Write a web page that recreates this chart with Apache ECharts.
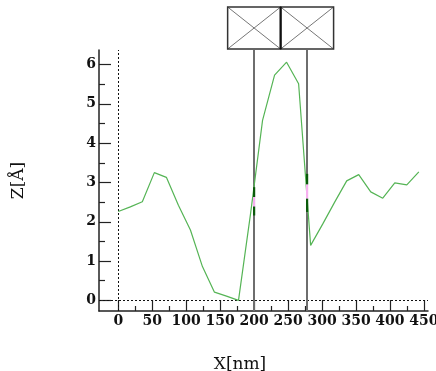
<!DOCTYPE html>
<html><head><meta charset="utf-8">
<script src="https://cdn.jsdelivr.net/npm/echarts@6/dist/echarts.min.js"></script>
<style>html,body{margin:0;padding:0;background:#fff;overflow:hidden}#c{width:436px;height:371px}</style>
</head><body><div id="c"></div>
<script>
// ---- data ----
const xValues = [0, 17.7, 35.4, 53.1, 70.8, 88.5, 106.2, 123.9, 141.6, 159.3, 177, 194.7, 212.4,
  230.1, 247.8, 265.5, 283.2, 300.9, 318.6, 336.3, 354, 371.7, 389.4, 407.1, 424.8, 442.5];
const zValues = [2.26, 2.38, 2.51, 3.25, 3.13, 2.42, 1.79, 0.86, 0.21, 0.11, 0.0, 2.2, 4.58,
  5.73, 6.06, 5.51, 1.40, 1.94, 2.5, 3.04, 3.2, 2.76, 2.6, 2.99, 2.94, 3.27];
const xMajorTicks = [0, 50, 100, 150, 200, 250, 300, 350, 400, 450];
const xMinorTicks = [25, 75, 125, 175, 225, 275, 325, 375, 425];
const yMajorTicks = [0, 1, 2, 3, 4, 5, 6];
const yMinorTicks = [0.5, 1.5, 2.5, 3.5, 4.5, 5.5];
const cursorX = [200, 278];
const cursorPink = [[2.39, 2.63], [2.59, 2.95]];
const cursorDark = [[[2.16, 2.39], [2.63, 2.88]], [[2.25, 2.59], [2.95, 3.22]]];
const xName = 'X[nm]';
const yName = 'Z[Å]';

// ---- chart ----
const X_MIN = -28.4, X_MAX = 456, Y_MIN = -0.27, Y_MAX = 6.37;
const axisColor = '#222';
const serif = 'DejaVu Serif';
const labelFont = { fontFamily: serif, fontWeight: 'bold', fontSize: 14, color: '#111' };
const chart = echarts.init(document.getElementById('c'), null, { renderer: 'canvas' });

function tickAxis(min, max, pos, values, len) {
  return {
    type: 'value', min: min, max: max, position: pos,
    axisLine: { show: false, onZero: false },
    axisTick: { show: true, inside: true, length: len, customValues: values, lineStyle: { color: axisColor, width: 1.2 } },
    axisLabel: { show: false }, splitLine: { show: false }
  };
}

const seriesList = [{
  type: 'line', xAxisIndex: 0, yAxisIndex: 0,
  data: xValues.map((x, i) => [x, zValues[i]]),
  symbol: 'none', lineStyle: { color: '#55b455', width: 1.2 }, z: 3,
  markLine: {
    silent: true, symbol: 'none', label: { show: false }, z: 2,
    data: [
      { xAxis: 0, lineStyle: { type: [2, 2], color: '#111', width: 1 } },
      { yAxis: 0, lineStyle: { type: [2, 2], color: '#111', width: 1 } },
      ...cursorX.map(v => ({ xAxis: v, lineStyle: { type: 'solid', color: '#6e6e6e', width: 2 } }))
    ]
  }
}];
cursorX.forEach((cx, i) => {
  cursorDark[i].forEach(seg => seriesList.push({
    type: 'line', xAxisIndex: 0, yAxisIndex: 0, data: [[cx, seg[0]], [cx, seg[1]]], symbol: 'none', silent: true, z: 10,
    lineStyle: { color: '#0a5a0a', width: 2.2 }
  }));
  seriesList.push({
    type: 'line', xAxisIndex: 0, yAxisIndex: 0, data: [[cx, cursorPink[i][0]], [cx, cursorPink[i][1]]], symbol: 'none', silent: true, z: 10,
    lineStyle: { color: '#f7b0f0', width: 2.2 }
  });
});

chart.setOption({
  animation: false,
  backgroundColor: '#fff',
  grid: { left: 99, right: 8, top: 50, bottom: 60, outerBoundsMode: 'none', containLabel: false },
  xAxis: [{
    type: 'value', min: X_MIN, max: X_MAX, position: 'bottom',
    axisLine: { show: true, onZero: false, lineStyle: { color: axisColor, width: 1.5 } },
    axisTick: { show: false },
    axisLabel: { show: true, customValues: xMajorTicks, margin: 3, hideOverlap: false, ...labelFont },
    splitLine: { show: false }
  },
    tickAxis(X_MIN, X_MAX, 'bottom', xMajorTicks, 11),
    tickAxis(X_MIN, X_MAX, 'bottom', xMinorTicks, 5)
  ],
  yAxis: [{
    type: 'value', min: Y_MIN, max: Y_MAX, position: 'left',
    name: yName, nameLocation: 'middle', nameGap: 72, nameRotate: 90,
    nameTextStyle: { fontFamily: serif, fontSize: 17, color: '#111' },
    axisLine: { show: true, onZero: false, lineStyle: { color: axisColor, width: 1.5 } },
    axisTick: { show: false },
    axisLabel: { show: true, customValues: yMajorTicks, margin: 3, ...labelFont },
    splitLine: { show: false }
  },
    tickAxis(Y_MIN, Y_MAX, 'left', yMajorTicks, 12),
    tickAxis(Y_MIN, Y_MAX, 'left', yMinorTicks, 6)
  ],
  series: seriesList
});

// cursor boxes above the plot and x-axis name
const px = cursorX.map(v => chart.convertToPixel({ xAxisIndex: 0 }, v));
const d = px[1] - px[0];
const boxTop = 7, boxBottom = 49;
const graphics = [];
px.forEach(cx => {
  const l = cx - d / 2, r = cx + d / 2;
  graphics.push({ type: 'line', shape: { x1: l, y1: boxTop, x2: r, y2: boxBottom }, style: { stroke: '#777', lineWidth: 1 } });
  graphics.push({ type: 'line', shape: { x1: l, y1: boxBottom, x2: r, y2: boxTop }, style: { stroke: '#777', lineWidth: 1 } });
  graphics.push({ type: 'rect', shape: { x: l, y: boxTop, width: r - l, height: boxBottom - boxTop }, style: { fill: null, stroke: '#333', lineWidth: 1.5 } });
});
graphics.push({ type: 'line', shape: { x1: (px[0] + px[1]) / 2, y1: boxTop, x2: (px[0] + px[1]) / 2, y2: boxBottom }, style: { stroke: '#111', lineWidth: 2 } });
graphics.push({ type: 'text', x: 240, y: 356, style: { text: xName, fontFamily: serif, fontSize: 17, fill: '#111', textAlign: 'center', textVerticalAlign: 'top' } });
chart.setOption({ graphic: graphics });
</script>
</body></html>
